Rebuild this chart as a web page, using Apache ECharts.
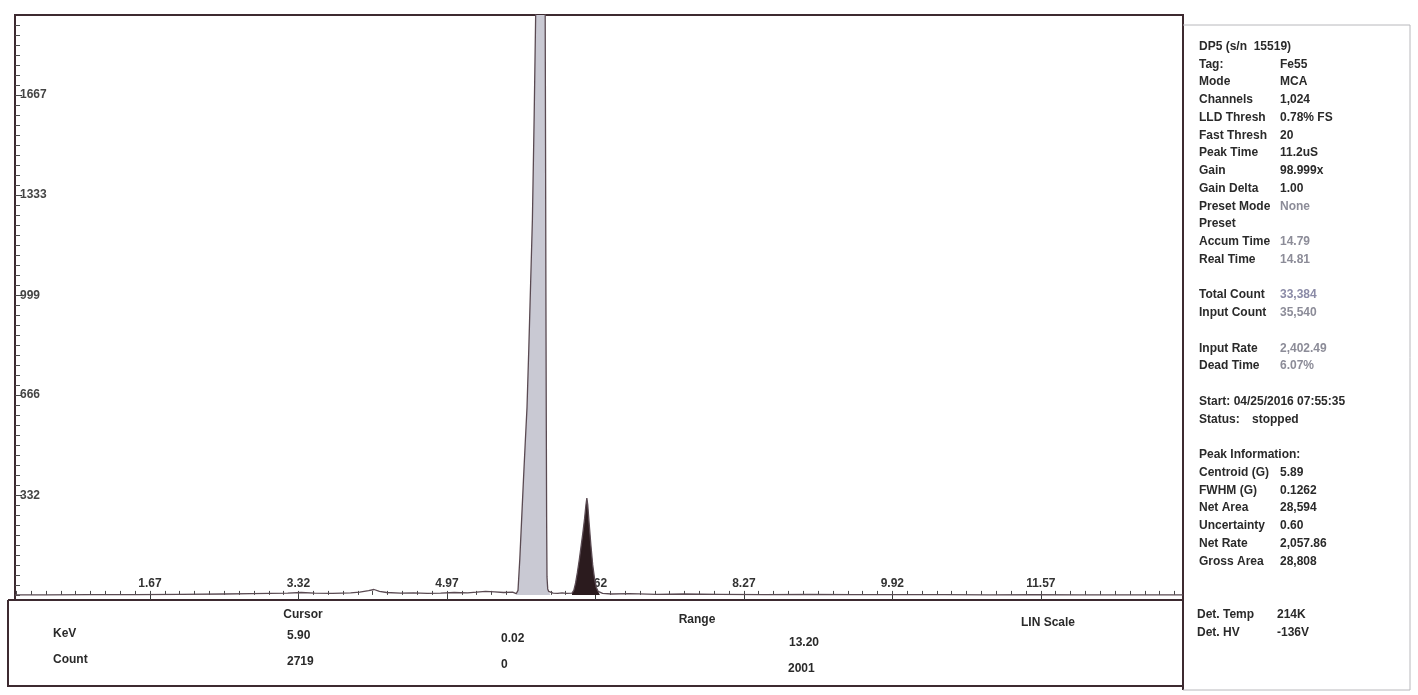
<!DOCTYPE html>
<html><head><meta charset="utf-8">
<script src="https://cdn.jsdelivr.net/npm/echarts@6/dist/echarts.min.js"></script>
<style>html,body{margin:0;padding:0;background:#fff}#c{width:1418px;height:695px}</style>
</head><body><div id="c"></div>
<script>
// ---- axis tick labels ----
const xTickLabels = [1.67, 3.32, 4.97, 6.62, 8.27, 9.92, 11.57];
const yTickLabels = [332, 666, 999, 1333, 1667];

// ---- spectrum (energy keV, counts) ----
const lowBgE = [0.17, 0.5, 1.0, 1.5, 2.0, 2.5, 2.8, 3.0, 3.2, 3.35, 3.5, 3.7, 3.9, 4.0, 4.1, 4.16, 4.22, 4.3, 4.45, 4.6, 4.75, 4.9, 5.05, 5.2, 5.3, 5.4, 5.5, 5.6, 5.7];
const lowBgC = [0, 0, 1, 1, 2, 3, 4, 5, 6, 8, 6, 5, 7, 9, 14, 18, 12, 8, 6, 7, 5, 6, 8, 7, 9, 12, 10, 8, 9];
const kaE = [5.74, 5.76, 5.78, 5.80, 5.82, 5.84, 5.86, 5.88, 5.90, 5.92, 5.94, 5.96, 5.98, 6.00, 6.01, 6.02, 6.04, 6.055, 6.062, 6.066, 6.070, 6.074, 6.078, 6.082, 6.09, 6.10, 6.12];
const kaC = [4, 15, 120, 250, 380, 505, 625, 822, 1037, 1252, 1604, 2010, 2400, 2680, 2719, 2700, 2550, 2250, 1950, 1500, 1000, 600, 250, 60, 20, 12, 8];
const midBgE = [6.15, 6.2, 6.25, 6.3];
const midBgC = [6, 5, 7, 5];
const kbE = [6.36, 6.38, 6.40, 6.42, 6.44, 6.46, 6.48, 6.50, 6.515, 6.525, 6.535, 6.55, 6.57, 6.59, 6.61, 6.63, 6.65, 6.67];
const kbC = [6, 15, 40, 75, 115, 160, 205, 255, 300, 323, 300, 240, 165, 100, 55, 25, 12, 6];
const highBgE = [6.7, 6.8, 7.0, 7.3, 7.6, 8.0, 8.5, 9.0, 9.5, 10.0, 10.5, 11.0, 11.5, 12.0, 12.5, 13.15];
const highBgC = [5, 3, 4, 2, 3, 2, 1, 2, 1, 1, 1, 0, 1, 0, 0, 0];

// ---- text tables ----
const cursorRow = {keV: '5.90', count: '2719'};
const rangeRow = {keVFrom: '0.02', keVTo: '13.20', countFrom: '0', countTo: '2001'};
const panelRows = [
  ['DP5 (s/n  15519)', '', 0],
  ['Tag:', 'Fe55', 0],
  ['Mode', 'MCA', 0],
  ['Channels', '1,024', 0],
  ['LLD Thresh', '0.78% FS', 0],
  ['Fast Thresh', '20', 0],
  ['Peak Time', '11.2uS', 0],
  ['Gain', '98.999x', 0],
  ['Gain Delta', '1.00', 0],
  ['Preset Mode', 'None', 1],
  ['Preset', '', 0],
  ['Accum Time', '14.79', 1],
  ['Real Time', '14.81', 1],
  null,
  ['Total Count', '33,384', 3],
  ['Input Count', '35,540', 1],
  null,
  ['Input Rate', '2,402.49', 1],
  ['Dead Time', '6.07%', 1],
  null,
  ['Start: 04/25/2016 07:55:35', '', 0],
  ['Status:', 'stopped', 2],
  null,
  ['Peak Information:', '', 0],
  ['Centroid (G)', '5.89', 0],
  ['FWHM (G)', '0.1262', 0],
  ['Net Area', '28,594', 0],
  ['Uncertainty', '0.60', 0],
  ['Net Rate', '2,057.86', 0],
  ['Gross Area', '28,808', 0]
];
const detRows = [['Det. Temp', '214K'], ['Det. HV', '-136V']];

const zip = (e, c) => e.map((v, i) => [v, c[i]]);
const fullSpec = [].concat(zip(lowBgE, lowBgC), zip(kaE, kaC), zip(midBgE, midBgC), zip(kbE, kbC), zip(highBgE, highBgC));

const X_MIN = 0.17, X_MAX = 13.15, Y_MIN = -17, Y_MAX = 1933;
const minorX = []; for (let i = 0; i <= 80; i++) { const v = +(0.02 + i * 0.165).toFixed(3); if (v > X_MIN && v < X_MAX) minorX.push(v); }
const minorY = []; for (let i = 0; i <= 58; i++) { const v = +(i * 33.33).toFixed(2); if (v < Y_MAX) minorY.push(v); }

const FRAME = '#3d2a30';
const FONT = '"Liberation Sans", Arial, sans-serif';
const TXT = '#2a2a2a';
const txt = (text, x, y, opt = {}) => ({
  type: 'text', silent: true,
  style: Object.assign({text, x, y, fill: TXT, font: 'bold 12px ' + FONT, textAlign: 'left', textVerticalAlign: 'middle'}, opt)
});

const graphics = [
  {type: 'polyline', shape: {points: [[8, 600], [8, 686], [1183, 686], [1183, 600]]}, style: {stroke: FRAME, lineWidth: 2, fill: null}},
  {type: 'line', shape: {x1: 8, y1: 600, x2: 15, y2: 600}, style: {stroke: FRAME, lineWidth: 2}},
  {type: 'line', shape: {x1: 1183, y1: 15, x2: 1183, y2: 690}, style: {stroke: FRAME, lineWidth: 2}},
  {type: 'polyline', shape: {points: [[1183, 25], [1410, 25], [1410, 690], [1183, 690]]}, style: {stroke: '#b8b8bc', lineWidth: 1, fill: null}},
  txt('Cursor', 303, 615, {textAlign: 'center'}),
  txt('Range', 697, 620, {textAlign: 'center'}),
  txt('LIN Scale', 1048, 623, {textAlign: 'center'}),
  txt('KeV', 53, 634),
  txt(cursorRow.keV, 287, 636),
  txt(rangeRow.keVFrom, 501, 639),
  txt(rangeRow.keVTo, 789, 643),
  txt('Count', 53, 660),
  txt(cursorRow.count, 287, 662),
  txt(rangeRow.countFrom, 501, 665),
  txt(rangeRow.countTo, 788, 669)
];
const valColors = [TXT, '#8c8c98', TXT, '#8a8aa6'];
panelRows.forEach((r, i) => {
  if (!r) return;
  const y = 46.5 + i * 17.75;
  graphics.push(txt(r[0], 1199, y));
  if (r[1]) graphics.push(txt(r[1], r[2] === 2 ? 1252 : 1280, y, {fill: valColors[r[2]]}));
});
detRows.forEach((r, i) => {
  const y = 615 + i * 17.7;
  graphics.push(txt(r[0], 1197, y));
  graphics.push(txt(r[1], 1277, y));
});

const chart = echarts.init(document.getElementById('c'), null, {renderer: 'canvas'});
chart.setOption({
  animation: false,
  backgroundColor: '#ffffff',
  grid: {left: 15, right: 235, top: 15, bottom: 95, show: true, borderColor: FRAME, borderWidth: 2, backgroundColor: 'transparent'},
  xAxis: [
    {type: 'value', min: X_MIN, max: X_MAX, position: 'bottom',
     axisLine: {onZero: false, lineStyle: {color: FRAME, width: 2}},
     axisTick: {inside: true, length: 8, customValues: xTickLabels, lineStyle: {color: '#3a3a3a', width: 1}},
     axisLabel: {inside: true, customValues: xTickLabels, margin: 10, formatter: v => v.toFixed(2), fontFamily: FONT, fontSize: 12, fontWeight: 'bold', color: '#333'},
     splitLine: {show: false}},
    {type: 'value', min: X_MIN, max: X_MAX, position: 'bottom',
     axisLine: {show: false},
     axisTick: {inside: true, length: 4, customValues: minorX, lineStyle: {color: '#4a4a4a', width: 1}},
     axisLabel: {show: false}, splitLine: {show: false}}
  ],
  yAxis: [
    {type: 'value', min: Y_MIN, max: Y_MAX, position: 'left',
     axisLine: {onZero: false, lineStyle: {color: FRAME, width: 2}},
     axisTick: {inside: true, length: 7, customValues: yTickLabels, lineStyle: {color: '#3a3a3a', width: 1}},
     axisLabel: {inside: true, customValues: yTickLabels, margin: 5, formatter: v => String(v), fontFamily: FONT, fontSize: 12, fontWeight: 'bold', color: '#444'},
     splitLine: {show: false}},
    {type: 'value', min: Y_MIN, max: Y_MAX, position: 'left',
     axisLine: {show: false},
     axisTick: {inside: true, length: 5, customValues: minorY, lineStyle: {color: '#4a4a4a', width: 1}},
     axisLabel: {show: false}, splitLine: {show: false}}
  ],
  series: [
    {name: 'Kα ROI', type: 'line', data: zip(kaE, kaC), symbol: 'none', z: 2, clip: true,
     lineStyle: {width: 0, opacity: 0}, areaStyle: {color: '#c9c9d3', opacity: 1}},
    {name: 'Kβ ROI', type: 'line', data: zip(kbE, kbC), symbol: 'none', z: 3, clip: true,
     lineStyle: {width: 0, opacity: 0}, areaStyle: {color: '#2b1b1e', opacity: 1}},
    {name: 'Spectrum', type: 'line', data: fullSpec, symbol: 'none', z: 4, clip: true,
     lineStyle: {color: '#5a4a52', width: 1.3}}
  ],
  graphic: graphics
});
</script>
</body></html>
